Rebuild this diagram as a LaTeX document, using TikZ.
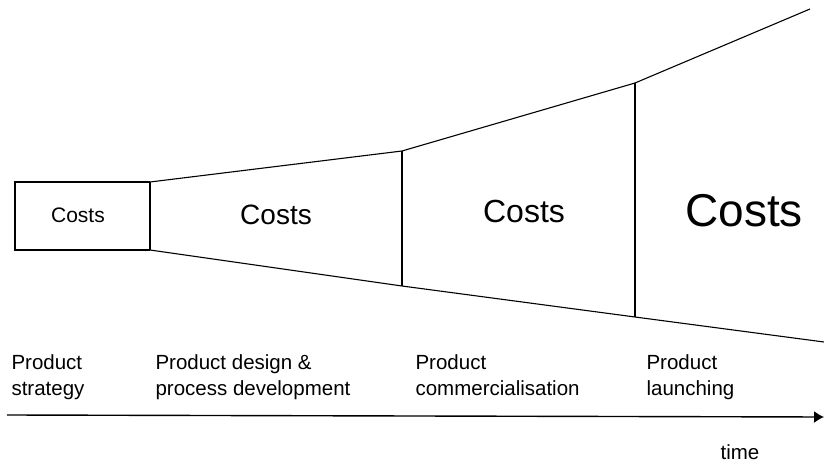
\documentclass[tikz,border=0pt]{standalone}
\usepackage{fontspec}
\setmainfont{Liberation Sans}
\usetikzlibrary{arrows.meta,positioning}

\begin{document}
\begin{tikzpicture}[x=1pt,y=-1pt,line width=1.1pt,
  phase/.style={anchor=north west,align=left,inner sep=0pt,font=\fontsize{20.5}{26}\selectfont},
  cost/.style={inner sep=0pt}]
\useasboundingbox (0,0) rectangle (824,462);
% outline of the cost funnel
\coordinate (a1) at (15,182);  \coordinate (a2) at (15,250);
\coordinate (b1) at (150,182); \coordinate (b2) at (150,250);
\coordinate (c1) at (402,151); \coordinate (c2) at (402,286);
\coordinate (d1) at (635,83);  \coordinate (d2) at (635,317);
\coordinate (e1) at (810,9);   \coordinate (e2) at (824,342);
\draw (b1) -- (a1) -- (a2) -- (b2);
\draw (b1) -- (c1) -- (d1) -- (e1);
\draw (b2) -- (c2) -- (d2) -- (e2);
\draw (b1) -- (b2) (c1) -- (c2) (d1) -- (d2);
% costs per phase
\node[cost,font=\fontsize{21}{21}\selectfont] (k1) at (78,215) {Costs};
\node[cost,font=\fontsize{28}{28}\selectfont] (k2) at (276,215) {Costs};
\node[cost,font=\fontsize{32}{32}\selectfont] (k3) at (524,211) {Costs};
\node[cost,font=\fontsize{46}{46}\selectfont] (k4) at (744,211) {Costs};
% phases
\node[phase] (p1) at (11,354) {Product\\strategy};
\node[phase] (p2) at (155,354) {Product design \&\\process development};
\node[phase] (p3) at (415,354) {Product\\commercialisation};
\node[phase] (p4) at (646,354) {Product\\launching};
% time axis
\coordinate (t0) at (7,415);
\coordinate (t1) at (824,417);
\draw[line width=1.4pt,-{Latex[length=10pt,width=12pt]}] (t0) -- (t1);
\node[phase,anchor=center] (time) at (740,452) {time};
\end{tikzpicture}
\end{document}
